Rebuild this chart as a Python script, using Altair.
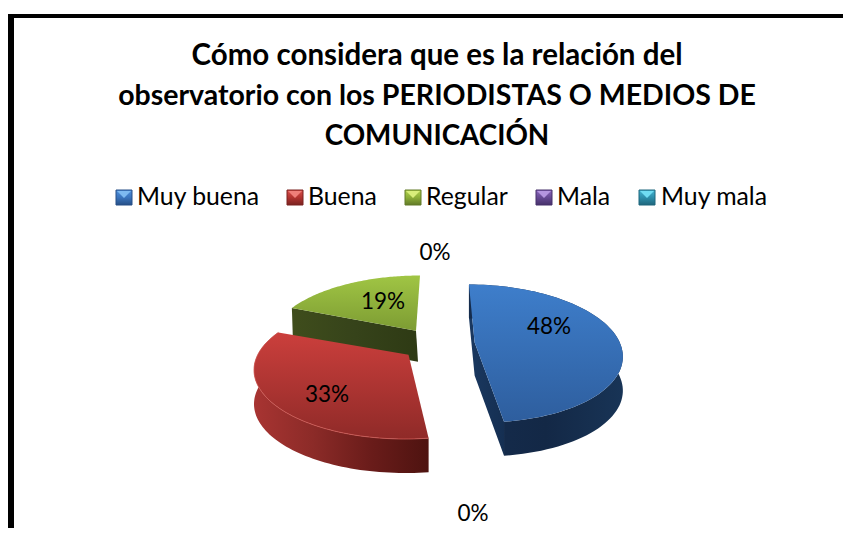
import numpy as np
import pandas as pd
import altair as alt

categories = ["Muy buena", "Buena", "Regular", "Mala", "Muy mala"]
values = [48, 33, 19, 0, 0]
title_lines = ["Cómo considera que es la relación del",
               "observatorio con los PERIODISTAS O MEDIOS DE",
               "COMUNICACIÓN"]
FONT = "Lato"

X = alt.X("x:Q", scale=alt.Scale(domain=[8, 843], nice=False, zero=False), axis=None)
Y = alt.Y("y:Q", scale=alt.Scale(domain=[528, 8], nice=False, zero=False), axis=None)
X2 = alt.X2("x2:Q")
Y2 = alt.Y2("y2:Q")


def grad(stops, x2=0, y2=1):
    n = len(stops) - 1
    return alt.LinearGradient(
        gradient="linear", x1=0, y1=0, x2=x2, y2=y2,
        stops=[alt.GradientStop(color=c, offset=i / n) for i, c in enumerate(stops)],
    )


def poly(points, fill):
    pts = list(points) + [points[0]]
    df = pd.DataFrame({"x": [p[0] for p in pts], "y": [p[1] for p in pts], "i": range(len(pts))})
    return alt.Chart(df).mark_line(fill=fill, strokeWidth=0).encode(x=X, y=Y, order="i:Q")


class Slice:
    def __init__(s, start, end, cx, cy, rx, ry, p, shear=0.0, y0=0.0, apex_x=None):
        s.__dict__.update(locals())

    def pt(s, a):
        a = np.radians(a)
        U, V = np.sin(a), np.cos(a)
        d = 1 + s.p * V
        u = U * np.sqrt(1 - s.p ** 2) / d
        v = (V + s.p) / d
        yy = s.cy - s.ry * v
        return (s.cx + s.rx * u + s.shear * (yy - s.y0), yy)

    def rim(s):
        return [s.pt(a) for a in np.linspace(s.start, s.end, 80)]

    def apex(s):
        yy = s.cy - s.ry * s.p
        xx = s.cx + s.shear * (yy - s.y0)
        return (s.apex_x if s.apex_x is not None else xx, yy)


def down(pts, d):
    return [(x, y + d) for x, y in pts]


shares = np.cumsum([0] + values) / sum(values) * 360
blue = Slice(shares[0], shares[1], 469, 353.5, 147, 69, 0.16, 0.098, 285)
red = Slice(shares[1], shares[2], 405, 370, 151, 69, 0.22, apex_x=408.5)
green = Slice(shares[2], shares[3], 420, 344.5, 151, 69, 0.20, apex_x=416)

layers = []

# frame
frame = pd.DataFrame({"x": [8, 8], "x2": [14, 843], "y": [14, 14], "y2": [528, 18]})
layers.append(alt.Chart(frame).mark_rect(color="#000000").encode(x=X, x2=X2, y=Y, y2=Y2))

# green
ga, gl = green.apex(), green.pt(green.start)
layers.append(poly([gl, ga, (ga[0] + 2, ga[1] + 31), (gl[0] + 1, gl[1] + 31)],
                   grad(["#3f4d1c", "#36431a", "#2e3a14"], x2=1, y2=0)))
layers.append(poly([ga] + green.rim(), grad(["#a0c544", "#7d9c33"])))

# red
rr = red.rim()
layers.append(poly(rr + down(rr[::-1], 34),
                   grad(["#a83432", "#8c2b28", "#6a1c1a", "#4e1310"], x2=1, y2=0)))
layers.append(poly([red.apex()] + rr, grad(["#cb3f3c", "#8f2a28"])))
rim_df = pd.DataFrame({"x": [p[0] for p in rr], "y": [p[1] for p in rr], "i": range(len(rr))})
layers.append(alt.Chart(rim_df).mark_line(color="#cf5a56", strokeWidth=0.8).encode(x=X, y=Y, order="i:Q"))

# blue
ba, be = blue.apex(), blue.pt(blue.end)
bs = blue.pt(blue.start)
layers.append(poly([bs, ba, be, (be[0], be[1] + 34), (ba[0], ba[1] + 33), (bs[0], bs[1] + 33)],
                   grad(["#1a3860", "#152f52"], x2=1, y2=0)))
br = blue.rim()
layers.append(poly(br + down(br[::-1], 34), grad(["#152c4d", "#132846", "#183456"], x2=1, y2=0)))
layers.append(poly([ba] + br, grad(["#3e7ecb", "#2e5e9e"])))

# title
title_sizes = [29.5, 28.5, 27.8]
title_y = [56, 96, 137]
for line, size, ty in zip(title_lines, title_sizes, title_y):
    tdf = pd.DataFrame({"x": [437], "y": [ty], "t": [line]})
    layers.append(alt.Chart(tdf).mark_text(font=FONT, fontSize=size, fontWeight="bold", color="#000000",
                                           align="center", baseline="middle").encode(x=X, y=Y, text="t:N"))

# legend
sw_x = [116, 287, 405, 536, 639]
lab_x = [137, 308, 426, 557, 661]
sw_cols = [["#4f8fdc", "#3a74bd", "#264f86"], ["#d9504c", "#b23431", "#7a2220"],
           ["#b0d24c", "#8cae38", "#627a28"], ["#8a66bd", "#674a94", "#46316a"],
           ["#45b4d2", "#2d8fab", "#1f667c"]]
sw_light = ["#7db9f0", "#ef7f7a", "#d8ee7a", "#b596e0", "#6fdcf2"]
for sx, cols, light in zip(sw_x, sw_cols, sw_light):
    d = pd.DataFrame({"x": [sx], "x2": [sx + 16], "y": [190], "y2": [205]})
    layers.append(alt.Chart(d).mark_rect(fill=grad(cols), stroke=cols[2], strokeWidth=1)
                  .encode(x=X, x2=X2, y=Y, y2=Y2))
    layers.append(poly([(sx + 1, 191), (sx + 15, 191), (sx + 8, 198)], light))
ldf = pd.DataFrame({"x": lab_x, "y": [198] * 5, "t": categories})
layers.append(alt.Chart(ldf).mark_text(font=FONT, fontSize=24.8, color="#000000", align="left",
                                       baseline="middle").encode(x=X, y=Y, text="t:N"))

# data labels
lab = pd.DataFrame({"x": [549, 327, 383, 435, 473], "y": [327, 395, 302, 253, 514],
                    "t": [f"{v}%" for v in [values[0], values[1], values[2], values[3], values[4]]]})
layers.append(alt.Chart(lab).mark_text(font=FONT, fontSize=22.5, color="#000000", align="center",
                                       baseline="middle").encode(x=X, y=Y, text="t:N"))

chart = alt.layer(*layers).properties(
    width=835, height=520, padding=0, autosize=alt.AutoSizeParams(type="none"),
    background="#ffffff",
).configure_view(stroke=None)

chart.save("out.html", embed_options={"renderer": "svg", "actions": False})
